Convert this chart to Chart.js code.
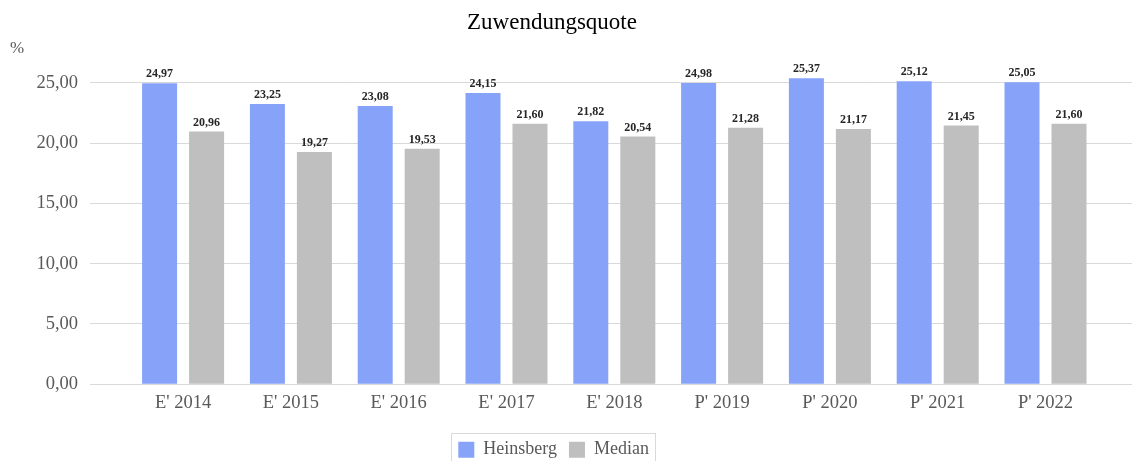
<!DOCTYPE html>
<html>
<head>
<meta charset="utf-8">
<script src="https://cdn.jsdelivr.net/npm/chart.js@4/dist/chart.umd.min.js"></script>
<style>
  html, body { margin: 0; padding: 0; background: #ffffff; }
  #wrap { width: 1132px; height: 461px; position: relative; }
</style>
</head>
<body>
<div id="wrap"><canvas id="c" width="1132" height="461"></canvas></div>
<script>
const categories = ["E' 2014", "E' 2015", "E' 2016", "E' 2017", "E' 2018", "P' 2019", "P' 2020", "P' 2021", "P' 2022"];
const heinsberg = [24.97, 23.25, 23.08, 24.15, 21.82, 24.98, 25.37, 25.12, 25.05];
const median = [20.96, 19.27, 19.53, 21.60, 20.54, 21.28, 21.17, 21.45, 21.60];
const yTicks = [0, 5, 10, 15, 20, 25];
const chartTitle = 'Zuwendungsquote';
const unitLabel = '%';
const seriesNames = ['Heinsberg', 'Median'];

const SERIF = "'Liberation Serif', 'Times New Roman', serif";
const fmt = v => v.toFixed(2).replace('.', ',');

const extras = {
  id: 'extras',
  afterLayout(chart) {
    const lg = chart.legend;
    lg.top = 428.7;
    lg.left = 446.3;
    if (chart.titleBlock) {
      chart.titleBlock.right -= 28;
    }
  },
  afterDatasetsDraw(chart) {
    const ctx = chart.ctx;
    ctx.save();
    ctx.font = "bold 12px " + SERIF;
    ctx.fillStyle = '#262626';
    ctx.textAlign = 'center';
    ctx.textBaseline = 'alphabetic';
    chart.data.datasets.forEach((ds, di) => {
      const meta = chart.getDatasetMeta(di);
      meta.data.forEach((bar, i) => {
        ctx.fillText(fmt(ds.data[i]), bar.x, bar.y - 6);
      });
    });
    ctx.restore();
  },
  afterDraw(chart) {
    const ctx = chart.ctx;
    ctx.save();
    ctx.font = "17px " + SERIF;
    ctx.fillStyle = '#595959';
    ctx.textAlign = 'left';
    ctx.textBaseline = 'alphabetic';
    ctx.fillText(unitLabel, 10, 53);
    const lg = chart.legend;
    const pad = lg.options.labels.padding;
    const start = lg.left + pad;
    const end = start + lg.lineWidths[0] - pad;
    const top = lg.top + pad - 8;
    ctx.strokeStyle = '#d9d9d9';
    ctx.lineWidth = 1;
    ctx.strokeRect(Math.round(start - 7) + 0.5, Math.round(top) + 0.5, Math.round(end - start + 13), 40);
    ctx.restore();
  }
};

new Chart(document.getElementById('c'), {
  type: 'bar',
  data: {
    labels: categories,
    datasets: [
      { label: seriesNames[0], data: heinsberg, backgroundColor: '#87a3f9', borderWidth: 0 },
      { label: seriesNames[1], data: median, backgroundColor: '#bfbfbf', borderWidth: 0 }
    ]
  },
  options: {
    responsive: false,
    animation: false,
    devicePixelRatio: 1,
    layout: { padding: 0 },
    datasets: { bar: { categoryPercentage: 0.872, barPercentage: 0.745 } },
    plugins: {
      title: {
        display: true,
        text: chartTitle,
        color: '#000000',
        font: { family: SERIF, size: 23, weight: 'normal', lineHeight: 1.2 },
        padding: { top: 9.1, bottom: 15.95 }
      },
      legend: {
        position: 'bottom',
        align: 'start',
        labels: {
          font: { family: SERIF, size: 18 },
          color: '#595959',
          boxWidth: 16,
          boxHeight: 16,
          padding: 12
        }
      },
      tooltip: { enabled: false }
    },
    scales: {
      x: {
        offset: false,
        grid: { display: false, drawTicks: false },
        border: { display: false },
        ticks: { color: '#595959', font: { family: SERIF, size: 18.5 }, padding: 8, maxRotation: 0, autoSkip: false },
        afterFit(s) { s.height = 36.7; },
        afterBuildTicks(s) { s._startValue = -0.8636; s._valueRange = 9.666; }
      },
      y: {
        min: 0,
        max: 27.5,
        grid: { color: '#d9d9d9', drawTicks: false, lineWidth: 1 },
        border: { display: false },
        ticks: {
          stepSize: 5,
          color: '#595959',
          font: { family: SERIF, size: 18.5 },
          padding: 12,
          callback: v => fmt(v)
        },
        afterFit(s) { s.width = 90; },
        afterBuildTicks(s) { s.ticks = yTicks.map(v => ({ value: v })); }
      }
    }
  },
  plugins: [extras]
});
</script>
</body>
</html>
